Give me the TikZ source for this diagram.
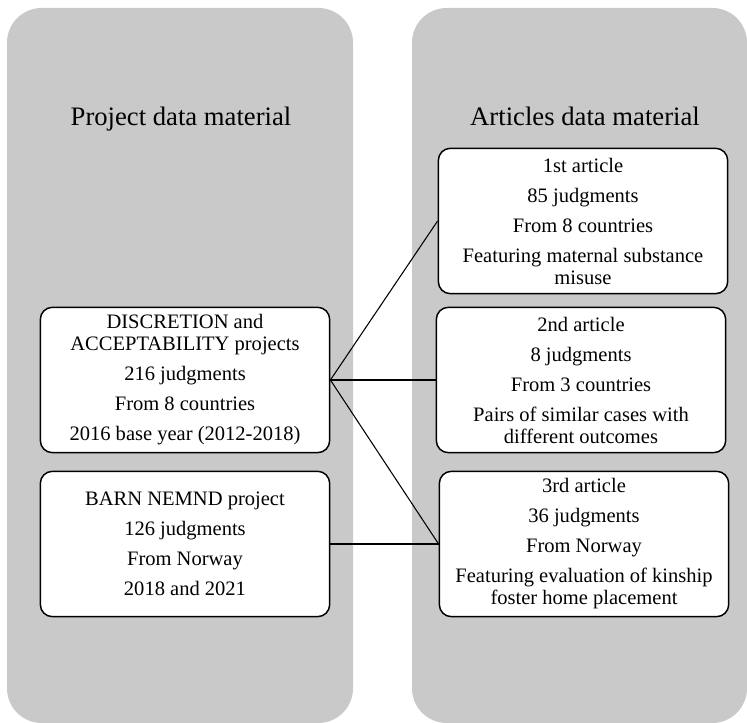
\documentclass[tikz,border=0pt]{standalone}
\usepackage{fontspec}
\setmainfont{Liberation Serif}
\usetikzlibrary{positioning}
\definecolor{panelgray}{RGB}{201,201,201}
\tikzset{
  panel/.style   = {fill=panelgray, rounded corners=26pt},
  databox/.style = {draw, line width=1.1pt, fill=white, rounded corners=9pt, align=center,
                    minimum width=217pt, minimum height=109pt, inner sep=0pt,
                    font=\fontsize{15.4}{16.5}\selectfont},
  heading/.style = {font=\fontsize{20}{24}\selectfont, anchor=base},
  link/.style    = {line width=0.8pt},
}

\begin{document}
\begin{tikzpicture}[x=0.75pt,y=-0.75pt]
  \useasboundingbox (0,0) rectangle (747,723);
  % panels
  \fill[panel] (7,8) rectangle (353,723);
  \fill[panel] (412,8) rectangle (747,723);
  \node[heading] (projhead) at (181,125.5) {Project data material};
  \node[heading] (arthead) at (585,125.5) {Articles data material};
  % project boxes
  \node[databox] (disc) at (185,380)
    {DISCRETION and\\ACCEPTABILITY projects\\[6pt]216 judgments\\[6pt]From 8 countries\\[6pt]2016 base year (2012-2018)};
  \node[databox] (barn) at (185,544)
    {BARN NEMND project\\[6pt]126 judgments\\[6pt]From Norway\\[6pt]2018 and 2021};
  % article boxes
  \node[databox] (art1) at (583,221)
    {1st article\\[6pt]85 judgments\\[6pt]From 8 countries\\[6pt]Featuring maternal substance\\misuse};
  \node[databox] (art2) at (581,380)
    {2nd article\\[6pt]8 judgments\\[6pt]From 3 countries\\[6pt]Pairs of similar cases with\\different outcomes};
  \node[databox] (art3) at (584,544)
    {3rd article\\[6pt]36 judgments\\[6pt]From Norway\\[6pt]Featuring evaluation of kinship\\foster home placement};
  % links
  \draw[link] (disc.east) -- (art1.west);
  \draw[link] (disc.east) -- (art2.west);
  \draw[link] (disc.east) -- (art3.west);
  \draw[link] (barn.east) -- (art3.west);
\end{tikzpicture}
\end{document}
